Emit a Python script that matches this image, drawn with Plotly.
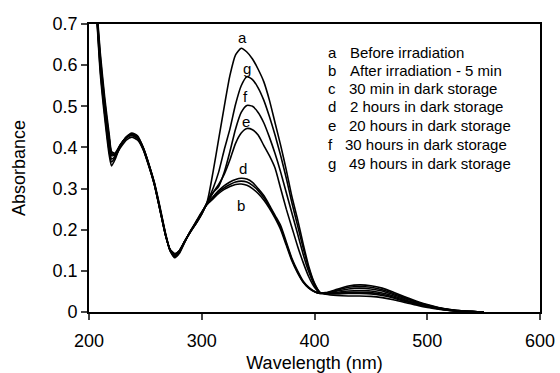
import plotly.graph_objects as go

# Wavelength grid (nm)
wavelength = [205, 207, 210, 214, 218, 220, 223, 228, 233, 238, 243, 248, 253, 258, 263, 268, 272, 276, 280, 285, 290, 295, 300,
              305, 310, 315, 320, 325, 330, 335, 340, 345, 350, 355, 360, 365, 370, 375, 380, 385, 390, 395, 400, 405,
              410, 420, 430, 440, 450, 460, 470, 480, 490, 500, 510, 520, 530, 540, 550]

# Absorbance series
abs_a = [0.80, 0.72, 0.61, 0.50, 0.42, 0.385, 0.38, 0.40, 0.418, 0.425, 0.418, 0.395, 0.355, 0.31, 0.248, 0.185, 0.15, 0.14, 0.148, 0.172, 0.195, 0.215, 0.238,
         0.27, 0.34, 0.42, 0.50, 0.575, 0.625, 0.641, 0.632, 0.615, 0.59, 0.56, 0.515, 0.46, 0.405, 0.345, 0.28, 0.225, 0.165, 0.11, 0.07, 0.047,
         0.043, 0.040, 0.039, 0.039, 0.038, 0.035, 0.030, 0.023, 0.017, 0.011, 0.007, 0.004, 0.002, 0.001, 0.0]
abs_b = [0.80, 0.71, 0.58, 0.47, 0.38, 0.355, 0.37, 0.405, 0.425, 0.435, 0.428, 0.40, 0.36, 0.315, 0.255, 0.19, 0.15, 0.132, 0.142, 0.17, 0.197, 0.22, 0.243,
         0.262, 0.275, 0.288, 0.298, 0.305, 0.31, 0.311, 0.308, 0.30, 0.288, 0.272, 0.252, 0.228, 0.20, 0.162, 0.124, 0.095, 0.072, 0.058, 0.05, 0.046,
         0.047, 0.055, 0.063, 0.066, 0.064, 0.058, 0.048, 0.037, 0.027, 0.018, 0.011, 0.006, 0.003, 0.001, 0.0]
abs_c = [0.80, 0.715, 0.59, 0.48, 0.39, 0.365, 0.375, 0.405, 0.425, 0.433, 0.426, 0.40, 0.36, 0.313, 0.252, 0.188, 0.148, 0.134, 0.144, 0.171, 0.196, 0.219, 0.242,
         0.265, 0.278, 0.292, 0.302, 0.31, 0.316, 0.318, 0.316, 0.308, 0.295, 0.278, 0.256, 0.232, 0.205, 0.166, 0.127, 0.097, 0.073, 0.058, 0.049, 0.045,
         0.046, 0.053, 0.060, 0.062, 0.060, 0.054, 0.045, 0.035, 0.025, 0.017, 0.010, 0.006, 0.003, 0.001, 0.0]
abs_d = [0.80, 0.72, 0.60, 0.49, 0.40, 0.372, 0.378, 0.405, 0.424, 0.432, 0.425, 0.40, 0.36, 0.312, 0.25, 0.187, 0.149, 0.136, 0.146, 0.172, 0.196, 0.218, 0.241,
         0.265, 0.28, 0.295, 0.307, 0.316, 0.322, 0.325, 0.323, 0.315, 0.30, 0.283, 0.26, 0.235, 0.21, 0.17, 0.13, 0.10, 0.075, 0.06, 0.05, 0.045,
         0.046, 0.051, 0.056, 0.058, 0.056, 0.051, 0.042, 0.033, 0.024, 0.016, 0.010, 0.005, 0.003, 0.001, 0.0]
abs_e = [0.80, 0.725, 0.61, 0.50, 0.41, 0.38, 0.382, 0.406, 0.424, 0.431, 0.424, 0.398, 0.358, 0.311, 0.249, 0.186, 0.15, 0.138, 0.147, 0.172, 0.196, 0.217, 0.240,
         0.266, 0.29, 0.31, 0.335, 0.37, 0.41, 0.435, 0.446, 0.443, 0.43, 0.405, 0.38, 0.35, 0.30, 0.25, 0.205, 0.16, 0.12, 0.085, 0.06, 0.046,
         0.045, 0.048, 0.051, 0.052, 0.051, 0.046, 0.039, 0.030, 0.022, 0.015, 0.009, 0.005, 0.002, 0.001, 0.0]
abs_f = [0.80, 0.73, 0.62, 0.51, 0.42, 0.385, 0.384, 0.407, 0.424, 0.430, 0.423, 0.397, 0.357, 0.31, 0.248, 0.185, 0.151, 0.14, 0.148, 0.172, 0.195, 0.216, 0.239,
         0.266, 0.29, 0.305, 0.34, 0.39, 0.445, 0.485, 0.502, 0.50, 0.485, 0.46, 0.425, 0.385, 0.34, 0.29, 0.24, 0.19, 0.14, 0.097, 0.065, 0.047,
         0.045, 0.046, 0.048, 0.048, 0.047, 0.043, 0.036, 0.028, 0.020, 0.014, 0.008, 0.004, 0.002, 0.001, 0.0]
abs_g = [0.80, 0.735, 0.63, 0.52, 0.43, 0.39, 0.386, 0.408, 0.423, 0.429, 0.422, 0.396, 0.356, 0.309, 0.247, 0.185, 0.152, 0.142, 0.149, 0.173, 0.195, 0.216, 0.239,
         0.268, 0.30, 0.34, 0.395, 0.445, 0.505, 0.55, 0.572, 0.565, 0.545, 0.515, 0.475, 0.43, 0.38, 0.325, 0.265, 0.21, 0.155, 0.105, 0.068, 0.047,
         0.044, 0.044, 0.045, 0.045, 0.044, 0.040, 0.034, 0.026, 0.019, 0.013, 0.008, 0.004, 0.002, 0.001, 0.0]

series_letters = ["a", "b", "c", "d", "e", "f", "g"]
series_names = ["Before irradiation", "After irradiation - 5 min", "30 min in dark storage",
                "2 hours in dark storage", "20 hours in dark storage", "30 hours in dark storage",
                "49 hours in dark storage"]
series_values = [abs_a, abs_b, abs_c, abs_d, abs_e, abs_f, abs_g]

x_ticks = [200, 300, 400, 500, 600]
y_ticks = [0, 0.1, 0.2, 0.3, 0.4, 0.5, 0.6, 0.7]

FONT = "Liberation Sans, Arial, Helvetica, sans-serif"

fig = go.Figure()
for letter, name, vals in zip(series_letters, series_names, series_values):
    fig.add_trace(go.Scatter(x=wavelength, y=vals, mode="lines", name=f"{letter} {name}",
                             line=dict(color="black", width=1.6, shape="spline", smoothing=0.6),
                             showlegend=False))

# curve labels
curve_label_pos = {"a": (335.7, 0.666), "g": (340.2, 0.592), "f": (338.7, 0.523),
                   "e": (339.3, 0.463), "d": (336.6, 0.349), "b": (335.1, 0.260)}
for letter, (lx, ly) in curve_label_pos.items():
    fig.add_annotation(x=lx, y=ly, text=letter, showarrow=False,
                       font=dict(family=FONT, size=15, color="black"))

# legend block as text
legend_y = [0.631, 0.588, 0.544, 0.499, 0.4545, 0.408, 0.361]
text_x = [429.8, 429.8, 429.0, 429.8, 429.0, 425.5, 429.0]
for letter, name, ly, tx in zip(series_letters, series_names, legend_y, text_x):
    fig.add_annotation(x=409.8, y=ly, text=letter, showarrow=False, xanchor="left",
                       font=dict(family=FONT, size=15, color="black"))
    fig.add_annotation(x=tx, y=ly, text=name, showarrow=False, xanchor="left",
                       font=dict(family=FONT, size=15, color="black"))

fig.update_layout(
    width=560, height=373,
    margin=dict(l=89, r=20, t=24, b=61),
    paper_bgcolor="white", plot_bgcolor="white",
    font=dict(family=FONT, size=18, color="black"),
)
fig.update_xaxes(range=[200, 600], tickvals=x_ticks, ticks="outside", ticklen=6, tickwidth=1.5,
                 showline=True, linewidth=1.8, linecolor="black", mirror=True,
                 showgrid=False, zeroline=False, automargin=False,
                 ticklabelstandoff=5,
                 title=dict(text="Wavelength (nm)", standoff=8, font=dict(size=18)),
                 tickfont=dict(size=18))
fig.update_yaxes(range=[0, 0.7], tickvals=y_ticks, ticktext=[f"{v:g}" for v in y_ticks],
                 ticks="outside", ticklen=6, tickwidth=1.5,
                 showline=True, linewidth=1.8, linecolor="black", mirror=True,
                 showgrid=False, zeroline=False, automargin=False,
                 title=dict(text="Absorbance", standoff=22, font=dict(size=18)),
                 tickfont=dict(size=18))

fig.write_html("out.html")
